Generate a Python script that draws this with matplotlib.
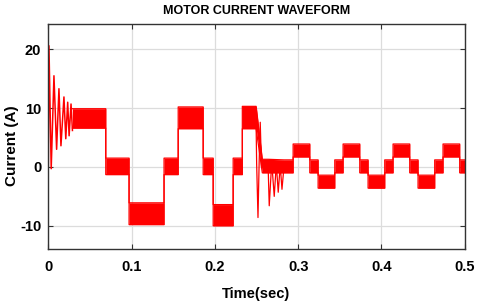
import matplotlib
matplotlib.use("Agg")
import matplotlib.pyplot as plt
import numpy as np

plt.rcParams['font.family'] = ['Liberation Sans', 'DejaVu Sans']
plt.rcParams['axes.unicode_minus'] = False

# start-up transient (peaks / troughs)
start_t = [0.0, 0.0008, 0.0035, 0.0068, 0.0100, 0.0128, 0.0152, 0.0188, 0.0210, 0.0233, 0.0250, 0.0273, 0.0290]
start_i = [0.0, 20.6, -0.3, 15.5, 3.0, 13.3, 3.6, 11.9, 4.8, 11.0, 5.3, 10.7, 6.2]

# load disturbance near t = 0.25 s
dist_t = [0.2496, 0.2502, 0.2518, 0.2532, 0.2545, 0.2560, 0.2570]
dist_i = [6.5, 0.5, -8.6, 0.8, 7.6, 0.0, 0.0]

osc_t = [0.2640, 0.2653, 0.2683, 0.2713, 0.2738, 0.2761, 0.2785, 0.2806, 0.2830]
osc_i = [0.0, -6.6, 0.8, -5.0, 0.5, -4.3, 0.3, -3.8, 0.0]

# ripple bands of the stepped current: start, end, lower edge, upper edge
seg_start = [0.029, 0.069, 0.097, 0.139, 0.156, 0.186, 0.198, 0.222, 0.233,
             0.257, 0.283, 0.294, 0.314, 0.324, 0.344, 0.354, 0.374, 0.384,
             0.404, 0.414, 0.434, 0.444, 0.464, 0.474, 0.494]
seg_end = [0.069, 0.097, 0.139, 0.156, 0.186, 0.198, 0.222, 0.233, 0.2496,
           0.264, 0.294, 0.314, 0.324, 0.344, 0.354, 0.374, 0.384, 0.404,
           0.414, 0.434, 0.444, 0.464, 0.474, 0.494, 0.500]
seg_low = [6.6, -1.3, -9.8, -1.3, 6.5, -1.3, -10.0, -1.3, 6.5,
           -1.0, -1.0, 1.7, -1.0, -3.6, -1.0, 1.7, -1.0, -3.6,
           -1.0, 1.7, -1.0, -3.6, -1.0, 1.7, -1.0]
seg_high = [9.9, 1.5, -6.1, 1.5, 10.2, 1.5, -6.4, 1.5, 10.3,
            1.3, 1.2, 3.9, 1.2, -1.4, 1.2, 3.9, 1.2, -1.4,
            1.2, 3.9, 1.2, -1.4, 1.2, 3.9, 1.2]

red = '#ff0000'

fig = plt.figure(figsize=(4.8, 3.03), dpi=100)
ax = fig.add_axes([0.1006, 0.1772, 0.8675, 0.7436])

# envelope of the ripple bands
env_t, env_lo, env_hi = [], [], []
for t0, t1, lo, hi in zip(seg_start, seg_end, seg_low, seg_high):
    env_t += [t0, t1]
    env_lo += [lo, lo]
    env_hi += [hi, hi]

ax.fill_between(env_t, env_lo, env_hi, color=red, lw=0)
ax.plot(env_t, env_lo, color=red, lw=0.9)
ax.plot(env_t, env_hi, color=red, lw=0.9)
ax.plot(start_t, start_i, color=red, lw=1.1)
ax.plot(dist_t, dist_i, color=red, lw=0.9)
ax.plot(osc_t, osc_i, color=red, lw=0.9)

ax.set_xlim(0, 0.5)
ax.set_ylim(-14.0, 24.3)
ax.set_xticks([0, 0.1, 0.2, 0.3, 0.4, 0.5])
ax.set_xticklabels(['0', '0.1', '0.2', '0.3', '0.4', '0.5'])
ax.set_yticks([-10, 0, 10, 20])

ax.grid(True, color='#dcdcdc', lw=0.9)
ax.set_axisbelow(True)
ax.tick_params(direction='in', length=3.5, width=0.8, top=True, right=True,
               labelsize=10.5, colors='#333333', labelcolor='black')
ax.tick_params(axis='x', pad=8)
ax.tick_params(axis='y', pad=5)
for lab in ax.get_xticklabels() + ax.get_yticklabels():
    lab.set_fontweight('bold')
for sp in ax.spines.values():
    sp.set_color('#333333')
    sp.set_linewidth(1.0)

ax.set_title('MOTOR CURRENT WAVEFORM', fontsize=9, fontweight='bold', pad=7)
ax.set_xlabel('Time(sec)', fontsize=10.5, fontweight='bold', labelpad=9)
ax.set_ylabel('Current (A)', fontsize=11, fontweight='bold')
ax.yaxis.set_label_coords(-0.07, 0.46)

fig.savefig('out.png', dpi=100)
